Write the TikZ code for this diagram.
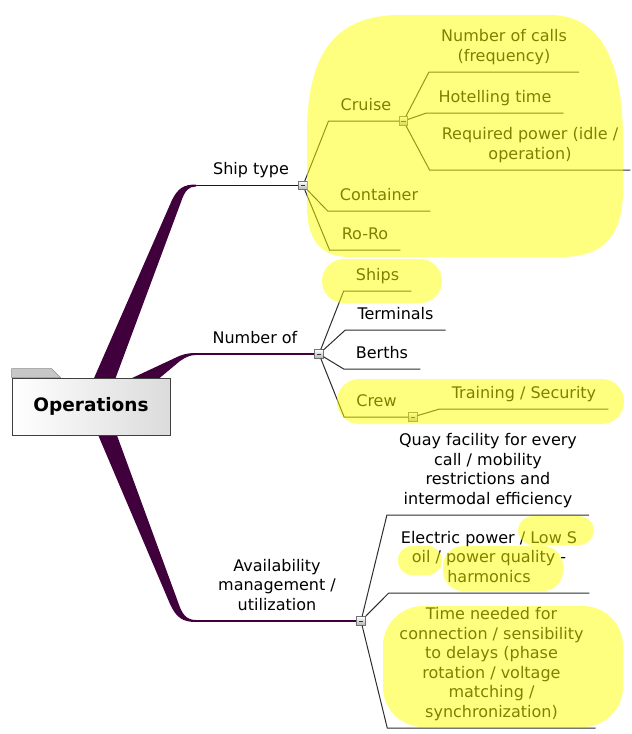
\documentclass[tikz,border=0pt]{standalone}
\usepackage{fontspec}
\setmainfont{DejaVu Sans}
\usetikzlibrary{positioning,calc}
\definecolor{branchcol}{RGB}{64,0,60}
\definecolor{twigcol}{RGB}{45,45,45}
\definecolor{markercol}{RGB}{255,255,0}
\newcommand{\mapfont}{\fontsize{16}{19.5}\selectfont}

\begin{document}
\begin{tikzpicture}[
  x=1pt, y=-1pt,
  % Thin purple continuation of the main branches
  stem/.style={draw=branchcol, line width=1.6pt},
  % Thin grey lines to the sub-topics
  twig/.style={draw=twigcol, line width=1pt},
  % Sub-topic text, underline sits on the south side
  leaf/.style={anchor=south, font=\mapfont, align=center,
    inner xsep=12pt, inner ysep=10.5pt, text depth=0pt},
  mainlbl/.style={leaf, inner xsep=0pt},
  % Folder-like central topic
  rootbox/.style={rectangle, draw=black!75, line width=0.8pt,
    left color=white, right color=black!14,
    minimum width=158pt, minimum height=57pt,
    font=\fontsize{18.5}{22}\selectfont\bfseries},
  % Small collapse boxes
  tog/.style={rectangle, draw=black!55, line width=0.6pt,
    top color=white, bottom color=black!30,
    minimum size=8.5pt, inner sep=0pt,
    path picture={\draw[black!80, line width=1pt]
      ([xshift=-2.2pt]path picture bounding box.center) --
      ([xshift=2.2pt]path picture bounding box.center);}},
  % Translucent marker highlight
  hl/.style={fill=markercol, fill opacity=0.5},
]
  \useasboundingbox (0,0) rectangle (632,734);

  % === Main branches (tapered) ===
  \fill[branchcol] (91,385) -- (172,200) .. controls (178,188) and (184,184.5) .. (196,184.5)
    -- (196,186.5) .. controls (189,186.5) and (185,190) .. (181,202) -- (113,385) -- cycle;
  \fill[branchcol] (115,386) -- (175,358) .. controls (182,354.5) and (187,353) .. (196,353)
    -- (196,355) .. controls (190,355) and (186,357) .. (180,361) -- (150,386) -- cycle;
  \fill[branchcol] (96,430) -- (170,604) .. controls (176,617) and (182,622) .. (196,622)
    -- (196,620) .. controls (186,620) and (182,614) .. (178,602) -- (115,430) -- cycle;
  \coordinate (bendship) at (196,185.5);
  \coordinate (bendnum) at (196,354);
  \coordinate (bendavail) at (196,621);

  % === Central topic ===
  \node[rootbox] (root) at (91,406.5) {Operations};
  \filldraw[fill=black!22, draw=black!45] (root.north west) -- ++(0,-9) -- ++(40,0) -- ++(9,9) -- cycle;

  % === Main topics ===
  \node[tog] (togship) at (303,185.5) {};
  \node[tog] (tognum) at (319,354) {};
  \node[tog] (togavail) at (361,621) {};
  \node[mainlbl] (shiptype) at (251,185.5) {Ship type};
  \node[mainlbl] (numberof) at (255,354) {Number of};
  \node[mainlbl] (availability) at (277,621) {Availability\\management /\\utilization};

  % === Ship type ===
  \node[leaf] (cruise) at (366,121) {Cruise};
  \node[leaf] (container) at (379,211) {Container};
  \node[leaf] (roro) at (365,250) {Ro-Ro};
  \node[tog] (togcruise) at (cruise.south east) {};
  \node[leaf] (calls) at (504,72) {Number of calls\\(frequency)};
  \node[leaf] (hotel) at (495,113) {Hotelling time};
  \node[leaf] (power) at (530,170) {Required power (idle /\\operation)};

  % === Number of ===
  \node[leaf] (ships) at (377.5,291) {Ships};
  \node[leaf] (terminals) at (395.5,330) {Terminals};
  \node[leaf] (berths) at (382,369) {Berths};
  \node[leaf] (crew) at (376.5,417) {Crew};
  \node[tog] (togcrew) at ([xshift=4pt]crew.south east) {};
  \node[leaf] (training) at (524,409) {Training / Security};

  % === Availability ===
  \node[leaf] (quay) at (488,515) {Quay facility for every\\call / mobility\\restrictions and\\intermodal efficiency};
  \node[leaf] (electric) at (489,593) {Electric power / Low S\\oil / power quality -\\harmonics};
  \node[leaf] (timeneed) at (491.5,728) {Time needed for\\connection / sensibility\\to delays (phase\\rotation / voltage\\matching /\\synchronization)};

  % === Edges: main branches ===
  \draw[stem] (bendship) -- (togship);
  \draw[stem] (bendnum) -- (tognum);
  \draw[stem] (bendavail) -- (togavail);

  % === Edges: ship type ===
  \draw[twig] (togship) -- (cruise.south west) -- (togcruise);
  \draw[twig] (togship) -- (container.south west) -- (container.south east);
  \draw[twig] (togship) -- (roro.south west) -- (roro.south east);
  \draw[twig] (togcruise) -- (calls.south west) -- (calls.south east);
  \draw[twig] (togcruise) -- (hotel.south west) -- (hotel.south east);
  \draw[twig] (togcruise) -- (power.south west) -- (power.south east);

  % === Edges: number of ===
  \draw[twig] (tognum) -- (ships.south west) -- (ships.south east);
  \draw[twig] (tognum) -- (terminals.south west) -- (terminals.south east);
  \draw[twig] (tognum) -- (berths.south west) -- (berths.south east);
  \draw[twig] (tognum) -- (crew.south west) -- (togcrew);
  \draw[twig] (togcrew) -- (training.south west) -- (training.south east);

  % === Edges: availability ===
  \draw[twig] (togavail) -- (quay.south west) -- (quay.south east);
  \draw[twig] (togavail) -- (electric.south west) -- (electric.south east);
  \draw[twig] (togavail) -- (timeneed.south west) -- (timeneed.south east);

  % === Highlights (on top) ===
  \fill[hl] (307,135) .. controls (307,60) and (330,15) .. (400,15) -- (550,15)
    .. controls (600,15) and (623,60) .. (623,140) -- (623,190)
    .. controls (623,240) and (600,257) .. (560,257) -- (350,257)
    .. controls (320,257) and (307,240) .. (307,205) -- cycle;
  \fill[hl, rounded corners=22pt] (322,259) rectangle (442,303);
  \fill[hl, rounded corners=22pt] (337,379) rectangle (624,424);
  \fill[hl, rounded corners=15pt] (518,516) rectangle (594,545);
  \fill[hl, rounded corners=14pt] (398,546) rectangle (442,575);
  \fill[hl, rounded corners=20pt] (443,546) rectangle (563,591);
  \fill[hl, rounded corners=40pt] (383,606) rectangle (623,727);
\end{tikzpicture}
\end{document}
